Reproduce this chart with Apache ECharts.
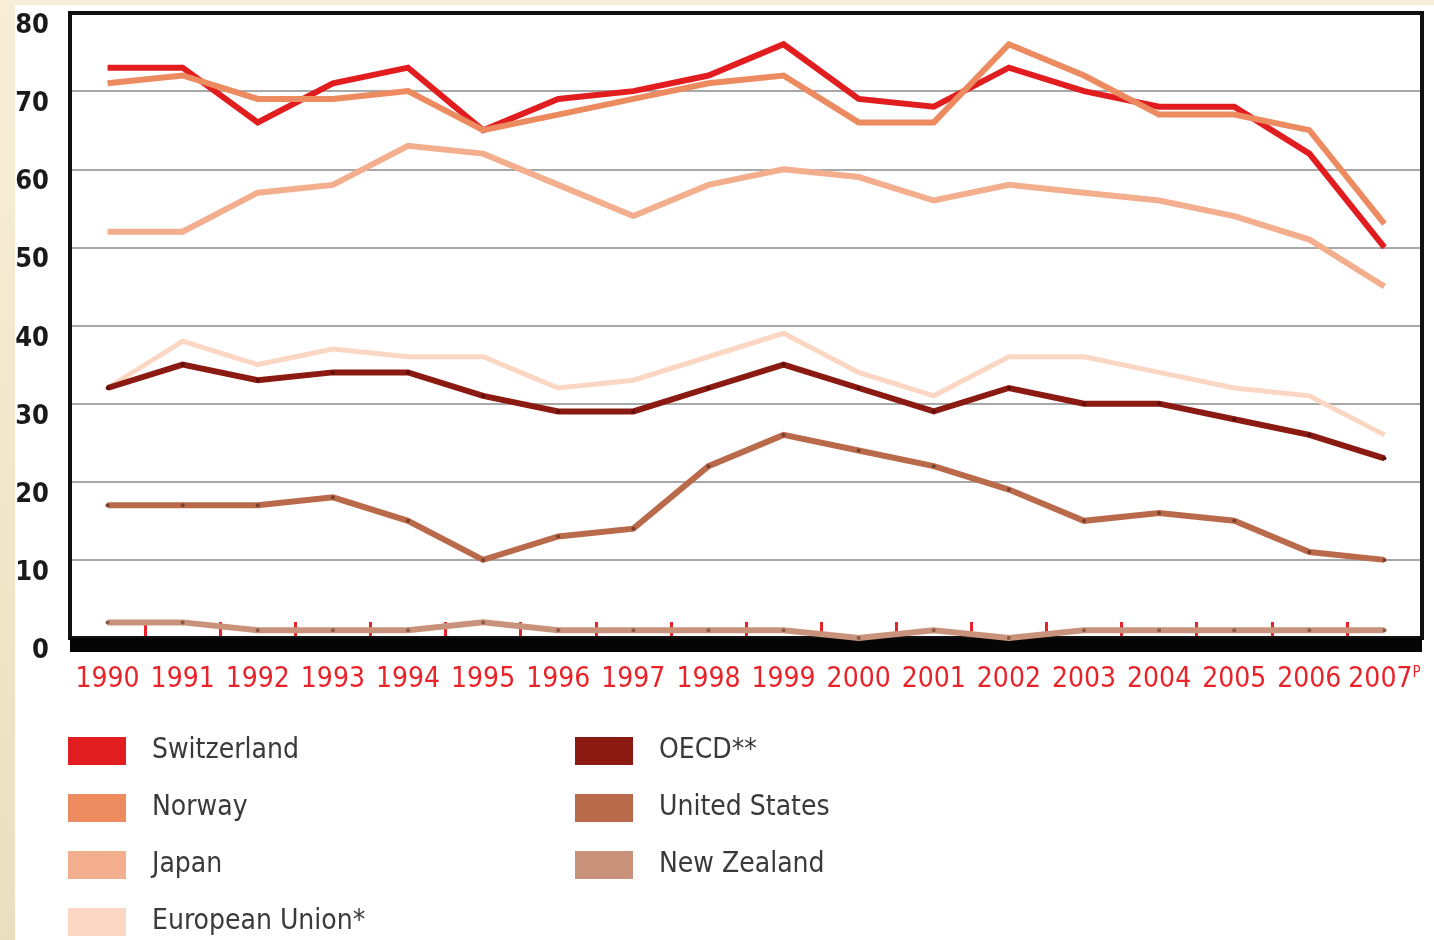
<!DOCTYPE html>
<html>
<head>
<meta charset="utf-8">
<script src="https://cdn.jsdelivr.net/npm/echarts@6/dist/echarts.min.js"></script>
<style>
  html, body { margin: 0; padding: 0; width: 1434px; height: 940px; overflow: hidden;
    background: linear-gradient(180deg, #f8eed8 0%, #f1e6c9 60%, #e9dfbf 100%); }
  #chart { position: absolute; left: 15px; top: 5px; width: 1419px; height: 935px; background: #ffffff; }
</style>
</head>
<body>
<div id="chart"></div>
<script>
// Year categories (the final year is provisional, marked "P")
const years = ['1990','1991','1992','1993','1994','1995','1996','1997','1998','1999',
               '2000','2001','2002','2003','2004','2005','2006','2007P'];

const yTicks = [0, 10, 20, 30, 40, 50, 60, 70, 80];

const switzerland = [73, 73, 66, 71, 73, 65, 69, 70, 72, 76, 69, 68, 73, 70, 68, 68, 62, 50];
const norway      = [71, 72, 69, 69, 70, 65, 67, 69, 71, 72, 66, 66, 76, 72, 67, 67, 65, 53];
const japan       = [52, 52, 57, 58, 63, 62, 58, 54, 58, 60, 59, 56, 58, 57, 56, 54, 51, 45];
const eu          = [32, 38, 35, 37, 36, 36, 32, 33, 36, 39, 34, 31, 36, 36, 34, 32, 31, 26];
const oecd        = [32, 35, 33, 34, 34, 31, 29, 29, 32, 35, 32, 29, 32, 30, 30, 28, 26, 23];
const us          = [17, 17, 17, 18, 15, 10, 13, 14, 22, 26, 24, 22, 19, 15, 16, 15, 11, 10];
const newZealand  = [2, 2, 1, 1, 1, 2, 1, 1, 1, 1, 0, 1, 0, 1, 1, 1, 1, 1];

const seriesNames = ['Switzerland', 'Norway', 'Japan', 'European Union*', 'OECD**', 'United States', 'New Zealand'];
const seriesData  = [switzerland, norway, japan, eu, oecd, us, newZealand];
const colors      = ['#e21d1f', '#ec8a60', '#f3ae8e', '#fbd6c3', '#8a1a12', '#b96a4b', '#c9937b'];
const dotColors   = [null, null, null, null, '#5a0e0a', '#7a3f2a', '#8a5a48'];

const condensed = '"DejaVu Sans Condensed", "Liberation Sans Narrow", sans-serif';

const chart = echarts.init(document.getElementById('chart'));

const series = seriesData.map((d, i) => ({
  name: seriesNames[i],
  type: 'line',
  data: d,
  xAxisIndex: 0,
  yAxisIndex: 0,
  color: colors[i],
  lineStyle: { color: colors[i], width: i === 3 ? 5 : 6, cap: 'butt', join: 'miter' },
  showSymbol: dotColors[i] !== null,
  symbol: 'circle',
  symbolSize: 4,
  itemStyle: { color: dotColors[i] || colors[i], borderWidth: 0 },
  emphasis: { disabled: true },
  animation: false,
  z: 4
}));

const legendItem = (i) => ({ name: seriesNames[i], itemStyle: { color: colors[i] }, icon: 'rect' });
const legendBase = {
  orient: 'vertical',
  padding: 0,
  itemWidth: 58,
  itemHeight: 28,
  itemGap: 29,
  icon: 'rect',
  selectedMode: false,
  textStyle: { fontFamily: condensed, fontSize: 28, color: '#3a3a3a', lineHeight: 28, padding: [0, 0, 0, 21] }
};

chart.setOption({
  animation: false,
  grid: {
    left: 55, right: 12, top: 8, bottom: 302,
    outerBoundsMode: 'none',
    containLabel: false,
    z: 2,
    show: true, borderColor: '#111111', borderWidth: 4, backgroundColor: 'transparent'
  },
  legend: [
    Object.assign({}, legendBase, { left: 53, top: 732, data: [0, 1, 2, 3].map(legendItem) }),
    Object.assign({}, legendBase, { left: 560, top: 732, data: [4, 5, 6].map(legendItem) })
  ],
  xAxis: [
    {
      type: 'category',
      data: years,
      boundaryGap: true,
      position: 'bottom',
      axisLine: { show: false },
      axisTick: {
        show: true, inside: true, length: 16,
        interval: (i) => i > 0 && i < years.length,
        lineStyle: { color: '#e8232a', width: 3 }
      },
      axisLabel: {
        interval: 0,
        margin: 28,
        fontFamily: condensed,
        fontSize: 28,
        color: '#e8232a',
        formatter: (v) => v.endsWith('P') ? v.slice(0, -1) + '{p|P}' : v,
        rich: { p: { fontFamily: condensed, fontSize: 15, color: '#e8232a', verticalAlign: 'top', padding: [0, 0, 12, 0] } }
      },
      splitLine: { show: false },
      z: 1
    },
    {
      // heavy baseline under the plot
      type: 'category',
      data: years,
      position: 'bottom',
      offset: 7,
      axisLine: { show: true, lineStyle: { color: '#050505', width: 14, cap: 'butt' } },
      axisTick: { show: false },
      axisLabel: { show: false },
      splitLine: { show: false },
      z: 3
    }
  ],
  yAxis: {
    type: 'value',
    min: yTicks[0],
    max: yTicks[yTicks.length - 1],
    interval: 10,
    axisLine: { show: false },
    axisTick: { show: false },
    axisLabel: {
      margin: 21,
      formatter: (v) => yTicks.includes(v) ? '{n|' + v + '}' : '',
      rich: {
        n: { fontFamily: condensed, fontSize: 27, fontWeight: 'bold', color: '#1a1a1a', padding: [26, 0, 0, 0] }
      }
    },
    splitLine: { show: true, lineStyle: { color: '#a8a8a8', width: 2 } },
    z: 1
  },
  series: series
});
</script>
</body>
</html>
